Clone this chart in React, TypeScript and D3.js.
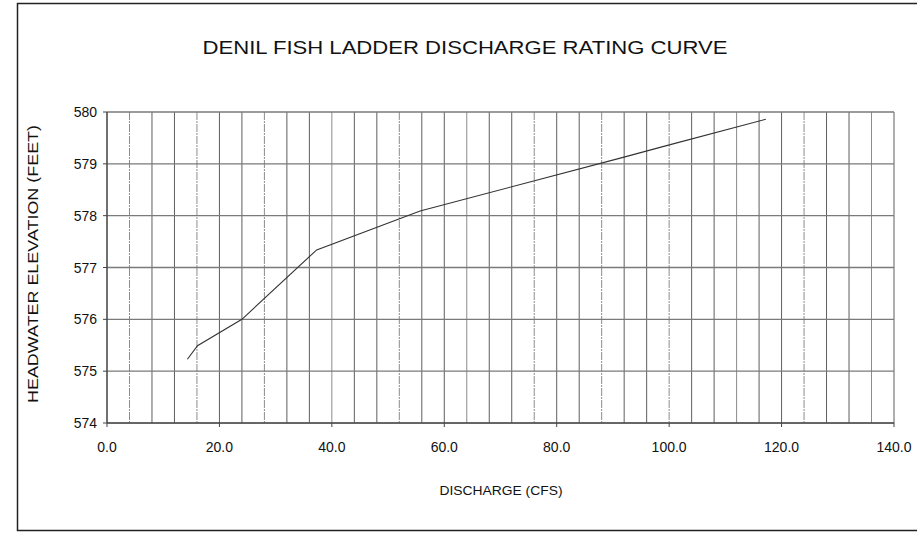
import React from "react";
import * as d3 from "d3";

const discharge = [14.3, 16.1, 24.0, 37.3, 55.7, 91.3, 100.2, 117.2];
const elevation = [575.23, 575.49, 576.0, 577.34, 578.09, 579.11, 579.37, 579.86];
const xTicks = [0, 20, 40, 60, 80, 100, 120, 140];
const yTicks = [574, 575, 576, 577, 578, 579, 580];
const xMinorGrid = d3.range(0, 141, 4);

const title = "DENIL FISH LADDER DISCHARGE RATING CURVE";
const xTitle = "DISCHARGE (CFS)";
const yTitle = "HEADWATER ELEVATION (FEET)";

export default function App() {
  const W = 917, H = 533;
  const left = 107, right = 894, top = 112, bottom = 423;
  const x = d3.scaleLinear().domain([0, 140]).range([left, right]);
  const y = d3.scaleLinear().domain([574, 580]).range([bottom, top]);
  const pts = discharge.map((d, i) => [d, elevation[i]] as [number, number]);
  const line = d3.line<[number, number]>().x(d => x(d[0])).y(d => y(d[1]));
  const font = "'Liberation Sans', Arial, sans-serif";

  return (
    <svg width={W} height={H} style={{ position: "absolute", left: 0, top: 0, background: "#fff" }}>
      <rect x={0} y={0} width={W} height={H} fill="#fff" />
      <path d={`M${W + 2},3.5 H17.5 V530.5 H${W + 2}`} fill="none" stroke="#222" strokeWidth={1.5} />
      {xMinorGrid.map((v, i) => (
        <line key={"vx" + i} x1={x(v)} x2={x(v)} y1={top} y2={bottom}
          stroke={i % 3 === 1 ? "#8c8c8c" : "#5e5e5e"} strokeWidth={1}
          strokeDasharray={i % 6 === 1 || i % 9 === 4 ? "8,1,2,1" : undefined} />
      ))}
      {yTicks.map((v, i) => (
        <line key={"hy" + i} x1={left} x2={right} y1={y(v)} y2={y(v)}
          stroke="#7a7a7a" strokeWidth={1.3} />
      ))}
      <line x1={left} x2={left} y1={top} y2={bottom} stroke="#333" strokeWidth={1} />
      <line x1={left} x2={right} y1={bottom} y2={bottom} stroke="#333" strokeWidth={1} />
      {yTicks.map((v, i) => (
        <line key={"ty" + i} x1={left - 4} x2={left} y1={y(v)} y2={y(v)} stroke="#444" />
      ))}
      {xTicks.map((v, i) => (
        <line key={"tx" + i} x1={x(v)} x2={x(v)} y1={bottom} y2={bottom + 4} stroke="#444" />
      ))}
      <path d={line(pts) || ""} fill="none" stroke="#333" strokeWidth={1.1} />
      {xTicks.map((v, i) => (
        <text key={"lx" + i} x={x(v)} y={452} textAnchor="middle" fontFamily={font} fontSize={14} fill="#111">
          {v.toFixed(1)}
        </text>
      ))}
      {yTicks.map((v, i) => (
        <text key={"ly" + i} x={97} y={y(v) + 5} textAnchor="end" fontFamily={font} fontSize={14} fill="#111">
          {v}
        </text>
      ))}
      <text x={465} y={54} textAnchor="middle" fontFamily={font} fontSize={18} fill="#111"
        textLength={525} lengthAdjust="spacingAndGlyphs">{title}</text>
      <text x={501} y={495} textAnchor="middle" fontFamily={font} fontSize={13} fill="#111"
        textLength={123} lengthAdjust="spacingAndGlyphs">{xTitle}</text>
      <text transform={`translate(38,264) rotate(-90)`} textAnchor="middle" fontFamily={font} fontSize={14} fill="#111"
        textLength={278} lengthAdjust="spacingAndGlyphs">{yTitle}</text>
    </svg>
  );
}
